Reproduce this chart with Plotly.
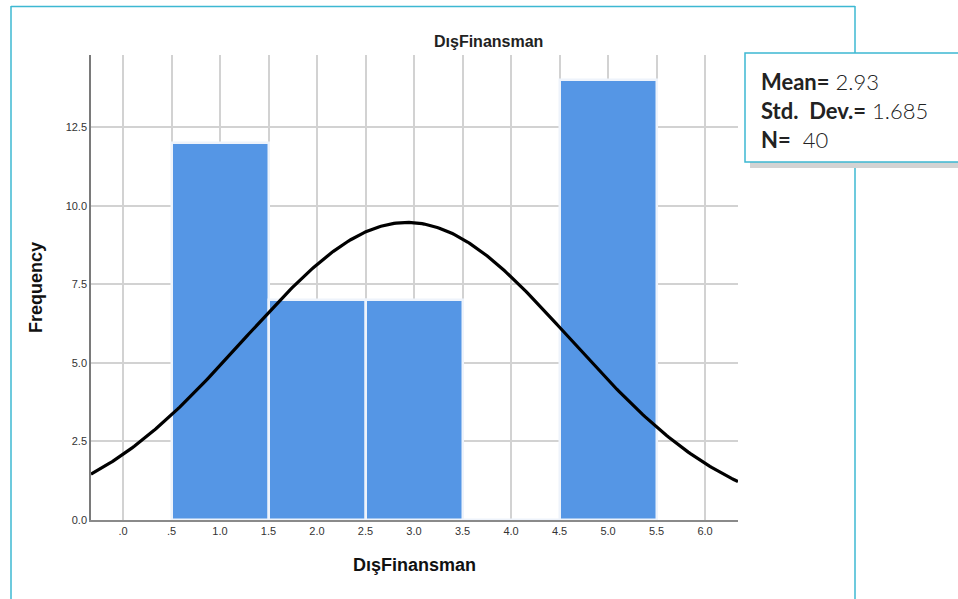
import numpy as np
import plotly.graph_objects as go

# Histogram of DışFinansman (bin centres and counts)
bin_centers = [1.0, 2.0, 3.0, 4.0, 5.0]
counts = [12, 7, 7, 0, 14]
bin_width = 1.0

# Summary statistics shown in the info box
mean_val = 2.93
std_val = 1.685
n_val = 40

x_tickvals = [0.0, 0.5, 1.0, 1.5, 2.0, 2.5, 3.0, 3.5, 4.0, 4.5, 5.0, 5.5, 6.0]
x_ticktext = [".0", ".5", "1.0", "1.5", "2.0", "2.5", "3.0", "3.5", "4.0", "4.5", "5.0", "5.5", "6.0"]
y_tickvals = [0.0, 2.5, 5.0, 7.5, 10.0, 12.5]
y_ticktext = ["0.0", "2.5", "5.0", "7.5", "10.0", "12.5"]

X_RANGE = [-0.33, 6.34]
Y_RANGE = [0, 14.8]

W, H = 958, 599
ML, MR, MT, MB = 91, 220, 55, 79
PW, PH = W - ML - MR, H - MT - MB


def px(x):
    return (x - ML) / PW


def py(y):
    return (H - MB - y) / PH


# Fitted normal curve scaled to counts
xs = np.linspace(X_RANGE[0], X_RANGE[1], 300)
ys = n_val * bin_width * np.exp(-0.5 * ((xs - mean_val) / std_val) ** 2) / (std_val * np.sqrt(2 * np.pi))

fig = go.Figure()
fig.add_trace(go.Bar(
    x=bin_centers, y=counts, width=bin_width,
    marker=dict(color="#5596E5", line=dict(color="#eef3fb", width=2.5)),
    hoverinfo="x+y", showlegend=False,
))
fig.add_trace(go.Scatter(
    x=xs, y=ys, mode="lines",
    line=dict(color="black", width=3.2),
    hoverinfo="skip", showlegend=False,
))

CYAN = "#3db8d2"
shapes = [
    # outer frame
    dict(type="line", xref="paper", yref="paper", x0=px(11), x1=px(11), y0=py(6), y1=py(610),
         line=dict(color=CYAN, width=1.5), layer="above"),
    dict(type="line", xref="paper", yref="paper", x0=px(11), x1=px(855), y0=py(6.5), y1=py(6.5),
         line=dict(color=CYAN, width=1.5), layer="above"),
    dict(type="line", xref="paper", yref="paper", x0=px(855), x1=px(855), y0=py(6), y1=py(610),
         line=dict(color=CYAN, width=1.5), layer="above"),
    # info box shadow
    dict(type="rect", xref="paper", yref="paper", x0=px(750), x1=px(970), y0=py(168), y1=py(158),
         fillcolor="#d3d3d3", line=dict(width=0), layer="above"),
    # info box
    dict(type="rect", xref="paper", yref="paper", x0=px(745), x1=px(975), y0=py(162), y1=py(53),
         fillcolor="white", line=dict(color=CYAN, width=1.5), layer="above"),
]

stat_font = dict(family="Lato, Noto Sans", size=22, color="#222", weight=300)
stat_lines = [
    ("<b>Mean=</b> " + f"{mean_val:.2f}", 81),
    ("<b>Std.  Dev.=</b> " + f"{std_val:.3f}", 110),
    ("<b>N=</b>  " + f"{n_val}", 139),
]

annotations = [
    dict(text="<b>DışFinansman</b>", xref="paper", yref="paper", x=px(489), y=py(41),
         showarrow=False, xanchor="center", yanchor="middle",
         font=dict(family="Liberation Sans, Arial", size=16, color="#222")),
]
for txt, yy in stat_lines:
    annotations.append(dict(text=txt, xref="paper", yref="paper", x=px(759), y=py(yy),
                            showarrow=False, xanchor="left", yanchor="middle",
                            font=stat_font))

fig.update_layout(
    width=W, height=H,
    margin=dict(l=ML, r=MR, t=MT, b=MB),
    paper_bgcolor="white", plot_bgcolor="white",
    bargap=0,
    shapes=shapes,
    annotations=annotations,
    xaxis=dict(
        range=X_RANGE, tickvals=x_tickvals, ticktext=x_ticktext,
        showgrid=True, gridcolor="#d2d2d2", gridwidth=1.5,
        showline=True, linecolor="#8a8a8a", linewidth=1.5,
        ticks="", zeroline=False,
        tickfont=dict(family="Liberation Sans, Arial", size=11, color="#333"),
        title=dict(text="<b>DışFinansman</b>", standoff=22,
                   font=dict(family="Liberation Sans, Arial", size=18, color="#111")),
    ),
    yaxis=dict(
        range=Y_RANGE, tickvals=y_tickvals, ticktext=y_ticktext,
        showgrid=True, gridcolor="#d2d2d2", gridwidth=1.5,
        showline=True, linecolor="#7a7a7a", linewidth=1.5,
        ticks="", zeroline=False,
        tickfont=dict(family="Liberation Sans, Arial", size=11, color="#333"),
        title=dict(text="<b>Frequency</b>", standoff=18,
                   font=dict(family="Liberation Sans, Arial", size=18, color="#111")),
    ),
)

fig.write_html("out.html")
